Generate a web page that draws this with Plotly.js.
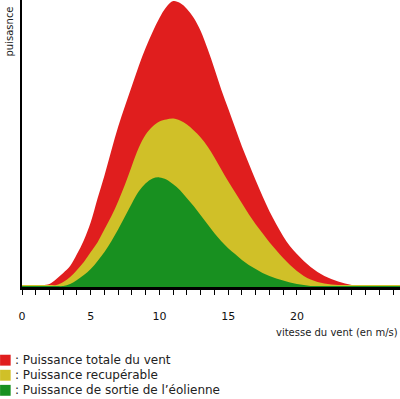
<!DOCTYPE html>
<html><head><meta charset="utf-8">
<script src="https://cdn.plot.ly/plotly-3.0.1.min.js"></script>
<style>html,body{margin:0;padding:0;background:#fff}#chart{width:400px;height:399px}</style>
</head><body><div id="chart"></div>
<script>
// wind speed (m/s)
const windSpeed = [0,0.5,1,1.5,2,2.5,3,3.5,4,4.5,5,5.5,6,6.5,7,7.5,8,8.5,9,9.5,10,10.5,11,11.5,12,12.5,13,13.5,14,14.5,15,15.5,16,16.5,17,17.5,18,18.5,19,19.5,20,20.5,21,21.5,22,22.5,23,23.5,24,24.5,25,25.5,26,26.5,27,27.5];
// power, arbitrary units
const totalPower = [2,2,2,2,3,8,14,21,33,47,65,89,112,137,161,182,202,222,240,256,270,281,287,285,279,270,257,239,219,198,179,160,141,124,107,91,76,63,51,41,33,26,20,15,11,8,5.5,3.5,2,2,2,2,2,2,2,2];
const recoverablePower = [2,2,2,2,2,2,5,10,17,25,35,45,58,71,86,103,122,140,153,161,166,168,169,167,163,157,150,141,130,118,106,95,84,73,63,54,45,37,29,22,16,11,7.5,5,3.5,2.5,2,2,2,2,2,2,2,2,2,2];
const turbinePower = [1,1,1,1,1,1,1,3,7,12,18,26,35,46,58,71,84,96,104,109,110,108,103,97,89,81,72,63,54,46,39,33,27,22,18,14,11,8.5,6.5,4.5,3,2,1,1,1,1,1,1,1,1,1,1,1,1,1,1];
const seriesNames = [": Puissance totale du vent", ": Puissance recupérable", ": Puissance de sortie de l\u2019éolienne"];
const seriesColors = ["#e01e1e", "#d0c028", "#189020"];
const xTickVals = [0,5,10,15,20];
const xTickText = ["0","5","10","15","20"];
const xTitle = "vitesse du vent (en m/s)";
const yTitle = "puisasnce";

const seriesData = [totalPower, recoverablePower, turbinePower];
const traces = seriesData.map((ys, i) => ({
  x: windSpeed, y: ys, type: "scatter", mode: "lines",
  line: {width: 0, shape: "spline", smoothing: 1, color: seriesColors[i]},
  fill: "tozeroy", fillcolor: seriesColors[i], name: seriesNames[i],
  hoverinfo: "skip", showlegend: false
}));

const font = "DejaVu Sans, Verdana, sans-serif";
const annotations = [
  {xref: "paper", yref: "paper", x: 1, y: -0.158, xanchor: "right", yanchor: "middle",
   text: xTitle, showarrow: false, font: {family: font, size: 10, color: "#222"}},
  {xref: "paper", yref: "paper", x: -0.032, y: 0.89, xanchor: "center", yanchor: "middle",
   text: yTitle, textangle: -90, showarrow: false, font: {family: font, size: 10, color: "#222"}}
];
const shapes = [];
seriesNames.forEach((n, i) => {
  const yc = -0.255 - i * 0.0525;
  annotations.push({xref: "paper", yref: "paper", x: -0.0235, y: yc, xanchor: "left", yanchor: "middle",
    text: n, showarrow: false, font: {family: font, size: 12, color: "#222"}});
  shapes.push({type: "rect", xref: "paper", yref: "paper", x0: -0.058, x1: -0.03,
    y0: yc - 0.019, y1: yc + 0.019, fillcolor: seriesColors[i], line: {width: 0}});
});

const layout = {
  width: 400, height: 399,
  margin: {l: 22, r: 0, t: 0, b: 112, pad: 0},
  paper_bgcolor: "#fff", plot_bgcolor: "#fff",
  showlegend: false,
  xaxis: {range: [0, 27.5], showgrid: false, zeroline: false,
    showline: true, linecolor: "#000", linewidth: 3,
    tickmode: "array", tickvals: xTickVals, ticktext: xTickText,
    ticks: "outside", ticklen: 5, tickwidth: 1, tickcolor: "#000",
    ticklabelstandoff: 12,
    minor: {dtick: 1, tick0: 0, ticks: "outside", ticklen: 5, tickwidth: 1, tickcolor: "#000", showgrid: false},
    tickfont: {family: font, size: 11, color: "#111"}, fixedrange: true},
  yaxis: {range: [0, 288], showgrid: false, zeroline: false,
    showline: true, linecolor: "#000", linewidth: 2, showticklabels: false, ticks: "", fixedrange: true},
  annotations: annotations, shapes: shapes
};
Plotly.newPlot("chart", traces, layout, {displayModeBar: false, staticPlot: true});
</script></body></html>
